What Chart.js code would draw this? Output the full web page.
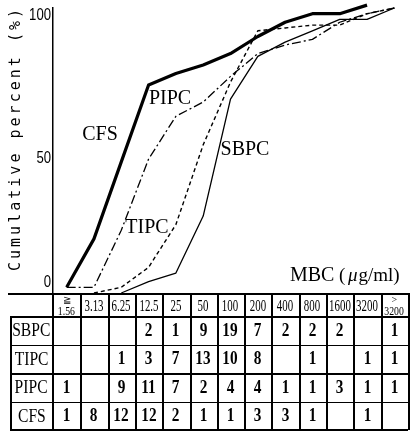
<!DOCTYPE html>
<html>
<head>
<meta charset="utf-8">
<script src="https://cdn.jsdelivr.net/npm/chart.js@4/dist/chart.umd.min.js"></script>
<style>
  html, body { margin: 0; padding: 0; background: #fff; }
  #wrap { position: relative; width: 410px; height: 433px; overflow: hidden; background: #fff; }
  #c { position: absolute; left: 0; top: 0; }
  .ln { position: absolute; background: #000; }
  .cell { position: absolute; display: flex; align-items: center; justify-content: center; color: #000; font-family: "Liberation Serif", "DejaVu Serif", serif; }
  .num { font-size: 18px; font-weight: bold; }
  .num span, .rl span, .hd span { display: inline-block; }
  .num span { transform: scaleX(0.85); }
  .rl { font-size: 19px; }
  .rl span { transform: scaleX(0.82); }
  .hd { font-size: 16px; flex-direction: column; line-height: 1; }
  .hd span { transform: scaleX(0.68); }
  .hd .sm { font-size: 13px; transform: scaleX(0.75); }
  .hd .sym { font-size: 10px; transform: none; line-height: 0.9; }
</style>
</head>
<body>
<div id="wrap">
  <canvas id="c" width="410" height="294" style="width:410px;height:294px"></canvas>
</div>
<script>
// ---- data ----
const categories = ['≤1.56', '3.13', '6.25', '12.5', '25', '50', '100', '200', '400', '800', '1600', '3200', '>3200'];
const seriesNames = ['SBPC', 'TIPC', 'PIPC', 'CFS'];
// cumulative percent
const sbpcPct = [null, null, 0, 4, 7, 27, 68, 83, 88, 92, 96, 96, 100];
const tipcPct = [null, 0, 2, 9, 24, 52, 74, 92, 93, 94, 94, 98, 100];
const pipcPct = [2, 2, 22, 47, 62, 67, 76, 84, 87, 89, 95, 98, 100];
const cfsPct  = [2, 19, 46, 73, 77, 80, 84, 90, 95, 98, 98, 101, null];
// number of strains per MBC (table)
const sbpcCounts = [null, null, null, 2, 1, 9, 19, 7, 2, 2, 2, null, 1];
const tipcCounts = [null, null, 1, 3, 7, 13, 10, 8, null, 1, null, 1, 1];
const pipcCounts = [1, null, 9, 11, 7, 2, 4, 4, 1, 1, 3, 1, 1];
const cfsCounts  = [1, 8, 12, 12, 2, 1, 1, 3, 3, 1, null, 1, null];
const yTickLabels = [0, 50, 100];
const yTitle = 'Cumulative percent (%)';
const xTitle = 'MBC';
const xUnit = 'μg/ml';

const countRows = [sbpcCounts, tipcCounts, pipcCounts, cfsCounts];

const textPlugin = {
  id: 'texts',
  afterDraw(chart) {
    const ctx = chart.ctx;
    const ys = chart.scales.y;
    ctx.save();
    ctx.fillStyle = '#000';
    // y tick labels (narrow)
    ctx.font = '16px "Liberation Sans", Arial, sans-serif';
    ctx.textAlign = 'right';
    yTickLabels.forEach(v => {
      const py = ys.getPixelForValue(v);
      ctx.save();
      ctx.translate(51, 0);
      ctx.scale(0.82, 1);
      if (v === 0) { ctx.textBaseline = 'bottom'; ctx.fillText(String(v), 0, py - 2); }
      else { ctx.textBaseline = 'top'; ctx.fillText(String(v), 0, py); }
      ctx.restore();
    });
    // y title
    ctx.save();
    ctx.font = '15px "DejaVu Sans Mono", monospace';
    const n = yTitle.length;
    ctx.letterSpacing = '0px';
    const base = ctx.measureText(yTitle).width;
    const sp = Math.max(0, (262 - base) / (n - 1));
    ctx.letterSpacing = sp.toFixed(2) + 'px';
    ctx.translate(16, 140);
    ctx.rotate(-Math.PI / 2);
    ctx.textAlign = 'center';
    ctx.textBaseline = 'middle';
    ctx.fillText(yTitle, sp / 2, 0);
    ctx.restore();
    // series labels
    ctx.font = '20px "Liberation Serif", "DejaVu Serif", serif';
    ctx.textAlign = 'center';
    ctx.textBaseline = 'middle';
    const pos = { CFS: [100, 135], PIPC: [170, 99], SBPC: [245, 150], TIPC: [147, 228] };
    seriesNames.forEach(s => ctx.fillText(s, pos[s][0], pos[s][1]));
    // x title
    ctx.textAlign = 'left';
    ctx.textBaseline = 'alphabetic';
    ctx.font = '20px "Liberation Serif", "DejaVu Serif", serif';
    ctx.fillText(xTitle, 290, 281);
    ctx.font = '19px "Liberation Serif", "DejaVu Serif", serif';
    ctx.fillText('(', 339, 281);
    ctx.font = 'italic 19px "Liberation Serif", "DejaVu Serif", serif';
    ctx.fillText(xUnit.charAt(0), 348, 281);
    const muW = ctx.measureText(xUnit.charAt(0)).width;
    ctx.font = '19px "Liberation Serif", "DejaVu Serif", serif';
    ctx.fillText(xUnit.slice(1) + ')', 348 + muW + 1, 281);
    ctx.restore();
  }
};

const mk = (label, data, width, dash) => ({
  label, data,
  borderColor: '#000', backgroundColor: '#000',
  borderWidth: width, borderDash: dash,
  pointRadius: 0, tension: 0, fill: false, spanGaps: false,
  borderJoinStyle: 'round', borderCapStyle: 'butt', clip: false
});

const chart = new Chart(document.getElementById('c'), {
  type: 'line',
  data: {
    labels: categories,
    datasets: [
      mk('CFS', cfsPct, 3.2, []),
      mk('PIPC', pipcPct, 1.3, [9, 3, 2, 3]),
      mk('SBPC', sbpcPct, 1.3, []),
      mk('TIPC', tipcPct, 1.4, [4, 3])
    ]
  },
  options: {
    responsive: false,
    animation: false,
    devicePixelRatio: 1,
    layout: { padding: { top: 8, right: 2, bottom: 1, left: 0 } },
    plugins: { legend: { display: false }, tooltip: { enabled: false }, title: { display: false } },
    scales: {
      x: { type: 'category', offset: true, display: false, grid: { display: false } },
      y: {
        min: 0, max: 100,
        ticks: { display: false },
        grid: { display: false },
        border: { display: true, color: '#000', width: 1.5 },
        afterFit: s => { s.width = 53; }
      }
    }
  },
  plugins: [textPlugin]
});

// ---- table built on the chart's x scale ----
(function buildTable() {
  const wrap = document.getElementById('wrap');
  const xs = chart.scales.x;
  const colW = xs.getPixelForValue(1) - xs.getPixelForValue(0);
  const left0 = xs.getPixelForValue(0) - colW / 2;
  const right = xs.getPixelForValue(categories.length - 1) + colW / 2;
  const top = 293, headH = 23, rowH = 28.5, labelL = 10;
  const bottom = top + headH + rowH * seriesNames.length;
  const add = (cls, l, t, w, h, html) => {
    const d = document.createElement('div');
    d.className = cls;
    d.style.left = l + 'px'; d.style.top = t + 'px';
    d.style.width = w + 'px'; d.style.height = h + 'px';
    if (html !== undefined) d.innerHTML = html;
    wrap.appendChild(d);
    return d;
  };
  // horizontal lines
  add('ln', 8, top, right - 8, 2);
  for (let r = 1; r <= seriesNames.length; r++) {
    const y = top + headH + rowH * (r - 1);
    add('ln', labelL, y, right - labelL, 1.5);
  }
  add('ln', labelL, bottom - 1, right - labelL, 1.5);
  // vertical lines
  add('ln', labelL, top + headH, 1.5, bottom - top - headH);
  for (let i = 0; i <= categories.length; i++) {
    const x = left0 + colW * i;
    add('ln', Math.round(x) - (i === 0 ? 1 : 0), top, 1.5, bottom - top);
  }
  // header cells
  categories.forEach((c, i) => {
    const l = left0 + colW * i;
    let html;
    if (c.startsWith('≤')) html = '<span class="sym">≧</span><span class="sm">' + c.slice(1) + '</span>';
    else if (c.startsWith('>')) html = '<span class="sym">&gt;</span><span class="sm">' + c.slice(1) + '</span>';
    else html = '<span>' + c + '</span>';
    add('cell hd', l, top + 2, colW, headH - 2, html);
  });
  // rows
  seriesNames.forEach((s, r) => {
    const t = top + headH + rowH * r;
    add('cell rl', labelL, t, left0 - labelL, rowH, '<span>' + s + '</span>');
    countRows[r].forEach((v, i) => {
      if (v === null) return;
      add('cell num', left0 + colW * i, t, colW, rowH, '<span>' + v + '</span>');
    });
  });
})();
</script>
</body>
</html>
